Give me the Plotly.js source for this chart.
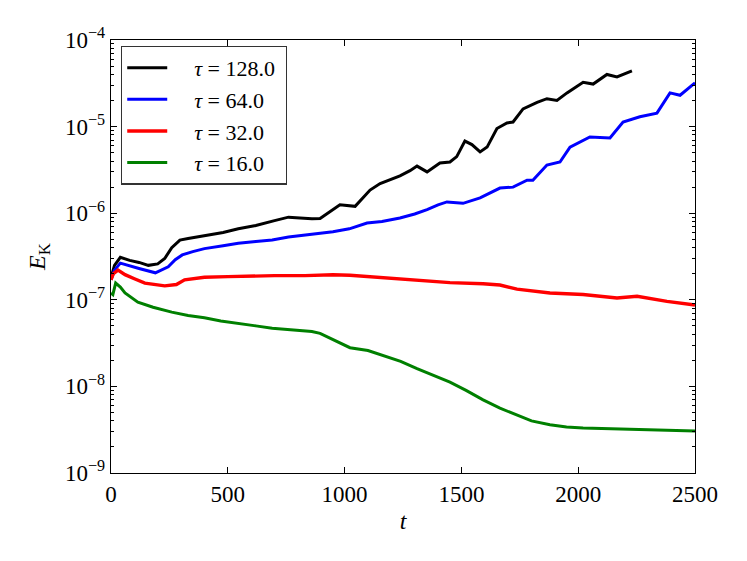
<!DOCTYPE html>
<html>
<head>
<meta charset="utf-8">
<script src="https://cdn.plot.ly/plotly-3.0.1.min.js"></script>
<style>html,body{margin:0;padding:0;background:#fff;}#chart{width:747px;height:561px;}</style>
</head>
<body>
<div id="chart"></div>
<script>
const seriesNames = ["τ = 128.0", "τ = 64.0", "τ = 32.0", "τ = 16.0"];
const seriesColors = ["#000000", "#0000ff", "#ff0000", "#008000"];

const t128 = [0, 15, 40, 80, 120, 160, 200, 230, 260, 295, 330, 400, 480, 545, 620, 700, 760, 809, 860, 895, 940, 980, 1045, 1080, 1109, 1152, 1200, 1237, 1280, 1310, 1353, 1408, 1451, 1480, 1515, 1545, 1580, 1610, 1652, 1695, 1721, 1764, 1824, 1866, 1909, 1952, 2021, 2064, 2123, 2166, 2230];
const e128 = [1.8e-7, 2.5e-7, 3.1e-7, 2.85e-7, 2.7e-7, 2.5e-7, 2.6e-7, 3.0e-7, 4.0e-7, 4.9e-7, 5.1e-7, 5.5e-7, 6.0e-7, 6.6e-7, 7.2e-7, 8.2e-7, 9.0e-7, 8.8e-7, 8.6e-7, 8.7e-7, 1.05e-6, 1.25e-6, 1.2e-6, 1.5e-6, 1.85e-6, 2.2e-6, 2.5e-6, 2.7e-6, 3.1e-6, 3.5e-6, 3.0e-6, 3.8e-6, 3.9e-6, 4.5e-6, 6.8e-6, 6.2e-6, 5.1e-6, 5.8e-6, 9.5e-6, 1.1e-5, 1.13e-5, 1.6e-5, 1.9e-5, 2.1e-5, 2.0e-5, 2.45e-5, 3.25e-5, 3.1e-5, 4.0e-5, 3.75e-5, 4.4e-5];

const t64 = [0, 15, 40, 80, 120, 190, 245, 275, 305, 350, 400, 480, 545, 620, 690, 760, 830, 900, 950, 1020, 1096, 1160, 1237, 1300, 1353, 1400, 1438, 1507, 1580, 1665, 1721, 1781, 1806, 1866, 1922, 1965, 2050, 2136, 2192, 2264, 2337, 2393, 2436, 2500];
const e64 = [1.7e-7, 2.2e-7, 2.65e-7, 2.45e-7, 2.3e-7, 2.05e-7, 2.4e-7, 2.9e-7, 3.3e-7, 3.6e-7, 3.9e-7, 4.2e-7, 4.5e-7, 4.7e-7, 4.9e-7, 5.3e-7, 5.6e-7, 5.9e-7, 6.1e-7, 6.6e-7, 7.7e-7, 8.0e-7, 8.8e-7, 9.8e-7, 1.1e-6, 1.25e-6, 1.35e-6, 1.3e-6, 1.5e-6, 1.95e-6, 2.0e-6, 2.4e-6, 2.4e-6, 3.6e-6, 3.9e-6, 5.8e-6, 7.6e-6, 7.4e-6, 1.13e-5, 1.3e-5, 1.43e-5, 2.45e-5, 2.3e-5, 3.2e-5];

const t32 = [0, 10, 30, 60, 100, 145, 230, 280, 315, 360, 400, 500, 615, 700, 830, 950, 1023, 1100, 1237, 1350, 1451, 1593, 1665, 1738, 1879, 2021, 2166, 2252, 2380, 2500];
const e32 = [1.7e-7, 2.0e-7, 2.2e-7, 1.95e-7, 1.75e-7, 1.56e-7, 1.45e-7, 1.5e-7, 1.7e-7, 1.78e-7, 1.82e-7, 1.85e-7, 1.9e-7, 1.9e-7, 1.9e-7, 1.95e-7, 1.92e-7, 1.85e-7, 1.72e-7, 1.65e-7, 1.58e-7, 1.53e-7, 1.48e-7, 1.33e-7, 1.2e-7, 1.15e-7, 1.05e-7, 1.1e-7, 9.6e-8, 8.7e-8];

const t16 = [0, 8, 20, 40, 60, 115, 180, 260, 330, 400, 470, 545, 620, 690, 760, 809, 860, 895, 950, 1023, 1100, 1164, 1240, 1310, 1380, 1451, 1520, 1593, 1665, 1738, 1800, 1879, 1950, 2021, 2200, 2500];
const e16 = [1.2e-7, 1.15e-7, 1.56e-7, 1.4e-7, 1.2e-7, 9.4e-8, 8.2e-8, 7.2e-8, 6.6e-8, 6.2e-8, 5.7e-8, 5.3e-8, 5.0e-8, 4.7e-8, 4.5e-8, 4.4e-8, 4.3e-8, 4.1e-8, 3.5e-8, 2.8e-8, 2.6e-8, 2.3e-8, 1.95e-8, 1.6e-8, 1.35e-8, 1.12e-8, 9e-9, 7e-9, 5.6e-9, 4.7e-9, 4.0e-9, 3.6e-9, 3.4e-9, 3.3e-9, 3.2e-9, 3.05e-9];

const xTicks = [0, 500, 1000, 1500, 2000, 2500];
const yTickVals = [1e-9, 1e-8, 1e-7, 1e-6, 1e-5, 1e-4];
const yTickText = ["10<sup>−9</sup>", "10<sup>−8</sup>", "10<sup>−7</sup>", "10<sup>−6</sup>", "10<sup>−5</sup>", "10<sup>−4</sup>"];

const xs = [t128, t64, t32, t16];
const ys = [e128, e64, e32, e16];
const widths = [3, 3, 3.4, 3];

const FONT = "Liberation Serif";

const traces = xs.map((x, i) => ({
  x: x, y: ys[i], type: "scatter", mode: "lines",
  name: "\u00a0\u00a0\u00a0\u00a0" + seriesNames[i].replace("τ", "<i>τ</i>") + "\u00a0",
  line: {color: seriesColors[i], width: widths[i]}
}));

const layout = {
  width: 747, height: 561,
  margin: {l: 111, r: 52, t: 40, b: 88, pad: 0},
  paper_bgcolor: "#ffffff", plot_bgcolor: "#ffffff",
  font: {family: FONT, size: 23, color: "#000"},
  showlegend: true,
  legend: {
    x: 0.017, y: 0.987, xanchor: "left", yanchor: "top",
    bgcolor: "#ffffff", bordercolor: "#333333", borderwidth: 1.3,
    font: {family: FONT, size: 22, color: "#000"},
    itemwidth: 40, tracegroupgap: 0
  },
  xaxis: {
    range: [0, 2500], tickmode: "array", tickvals: xTicks,
    ticktext: xTicks.map(String),
    ticks: "inside", ticklen: 6, tickwidth: 1, tickcolor: "#000",
    showline: true, linecolor: "#000", linewidth: 1.3, mirror: "ticks",
    showgrid: false, zeroline: false,
    tickfont: {family: FONT, size: 23},
    title: {text: "<i>t</i>", font: {family: FONT, size: 24}, standoff: 6}
  },
  yaxis: {
    type: "log", range: [-9, -4], tickmode: "array", tickvals: yTickVals, ticktext: yTickText,
    ticks: "inside", ticklen: 6, tickwidth: 1, tickcolor: "#000",
    showline: true, linecolor: "#000", linewidth: 1.3, mirror: "ticks",
    showgrid: false, zeroline: false,
    tickfont: {family: FONT, size: 23},
    minor: {ticks: "inside", ticklen: 3, tickwidth: 1, tickcolor: "#000", dtick: "D1", showgrid: false},
    title: {text: "<i>E</i><sub>K</sub>", font: {family: FONT, size: 24}, standoff: 12}
  }
};

Plotly.newPlot("chart", traces, layout, {displayModeBar: false, staticPlot: true});
</script>
</body>
</html>
